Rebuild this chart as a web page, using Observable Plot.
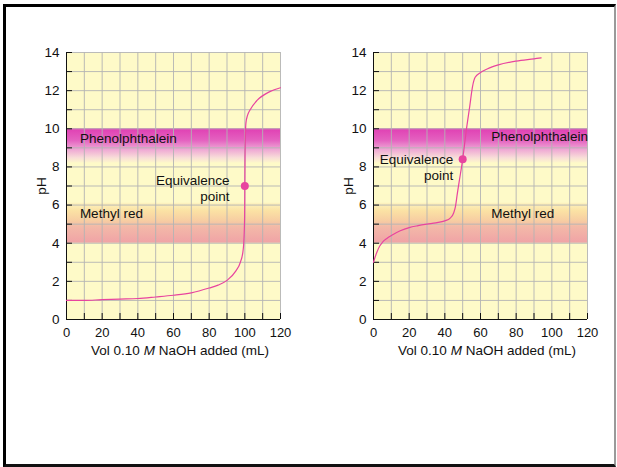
<!DOCTYPE html>
<html><head><meta charset="utf-8">
<script src="https://cdn.jsdelivr.net/npm/d3@7"></script>
<script src="https://cdn.jsdelivr.net/npm/@observablehq/plot@0.6"></script>
<style>
html,body{margin:0;padding:0;background:#fff;}
#frame{position:absolute;left:3px;top:4px;width:608px;height:457px;border-left:3px solid #000;border-top:3px solid #000;border-right:2px solid #9a9a9a;border-bottom:3px solid #111;}
.panel{position:absolute;}
.xlabel{position:absolute;font-family:"Liberation Sans",Arial,sans-serif;font-size:13.5px;line-height:16px;color:#111;white-space:nowrap;transform:translateX(-50%);}
</style></head>
<body>
<div id="frame"></div>
<div id="p1" class="panel" style="left:20px;top:40px"></div>
<div id="p2" class="panel" style="left:325px;top:40px"></div>
<div class="xlabel" style="left:180px;top:343px">Vol 0.10 <i>M</i> NaOH added (mL)</div>
<div class="xlabel" style="left:487px;top:343px">Vol 0.10 <i>M</i> NaOH added (mL)</div>
<script>
// ---- data ----
const xTickLabels = [0, 20, 40, 60, 80, 100, 120];
const xMinorTicks = [0, 10, 20, 30, 40, 50, 60, 70, 80, 90, 100, 110, 120];
const yTickLabels = [0, 2, 4, 6, 8, 10, 12, 14];
const yMinorTicks = [0, 1, 2, 3, 4, 5, 6, 7, 8, 9, 10, 11, 12, 13, 14];

// strong acid titration (left)
const volStrong = [0, 10, 20, 30, 40, 50, 60, 70, 80, 85, 90, 95, 97.5, 99, 99.6, 99.9, 100, 100.1, 100.3, 100.6, 101.5, 103, 107, 114, 120];
const pHStrong  = [1.0, 1.0, 1.04, 1.07, 1.1, 1.18, 1.27, 1.4, 1.65, 1.8, 2.05, 2.55, 3.0, 3.6, 4.4, 5.5, 7.0, 8.5, 9.6, 10.3, 10.7, 11.0, 11.5, 11.95, 12.15];
// weak acid titration (right)
const volWeak = [0, 1, 2, 3.5, 5, 7.5, 10, 15, 20, 25, 30, 35, 40, 43, 45, 46, 47, 48, 50, 52, 54, 55.5, 57, 60, 64, 70, 80, 90, 94];
const pHWeak  = [3.0, 3.3, 3.55, 3.85, 4.05, 4.25, 4.4, 4.65, 4.82, 4.92, 5.0, 5.07, 5.17, 5.32, 5.6, 5.95, 6.6, 7.2, 8.4, 9.9, 11.2, 12.2, 12.7, 12.95, 13.15, 13.35, 13.55, 13.67, 13.72];

const equivStrong = {vol: 100, pH: 7.0};
const equivWeak = {vol: 50, pH: 8.4};

// indicator ranges
const phenolRange = {lo: 8.2, hi: 10};
const methylRange = {lo: 4, hi: 6.1};

// labels
const labelsStrong = [
  {vol: 7.5, pH: 9.5, text: "Phenolphthalein"},
  {vol: 7.5, pH: 5.55, text: "Methyl red"}
];
const eqLabelsStrong = [
  {vol: 91.4, pH: 7.26, text: "Equivalence"},
  {vol: 91.4, pH: 6.42, text: "point"}
];
const labelsWeak = [
  {vol: 66, pH: 9.57, text: "Phenolphthalein"},
  {vol: 66, pH: 5.55, text: "Methyl red"}
];
const eqLabelsWeak = [
  {vol: 44.7, pH: 8.4, text: "Equivalence"},
  {vol: 44.7, pH: 7.56, text: "point"}
];

const toRows = (xs, ys) => xs.map((v, i) => ({vol: v, pH: ys[i]}));

const BG = "#fefac8";
const CURVE = "#e8449f";
const FONT = "'Liberation Sans', Arial, Helvetica, sans-serif";

function gradientDefs(id) {
  return () => {
    const defs = d3.create("svg:defs");
    const g1 = defs.append("linearGradient").attr("id", id + "-ph").attr("x1", 0).attr("y1", 0).attr("x2", 0).attr("y2", 1);
    [[0, "#e03fb3"], [0.35, "#e462c0"], [0.6, "#eea4d4"], [0.85, "#f8dcd8"], [1, "#fdf6cb"]]
      .forEach(([o, c]) => g1.append("stop").attr("offset", o).attr("stop-color", c));
    const g2 = defs.append("linearGradient").attr("id", id + "-mr").attr("x1", 0).attr("y1", 0).attr("x2", 0).attr("y2", 1);
    [[0, "#fdf3c0"], [0.2, "#fbe2a4"], [0.45, "#f7cda2"], [0.6, "#f3b9a8"], [1, "#f0a3a6"]]
      .forEach(([o, c]) => g2.append("stop").attr("offset", o).attr("stop-color", c));
    return defs.node();
  };
}

function makePanel({id, rows, equiv, labels, eqLabels, marginLeft, marginRight}) {
  const width = 290, height = 330, marginTop = 12, marginBottom = 51;
  const plotW = width - marginLeft - marginRight;
  const plotH = height - marginTop - marginBottom;
  return Plot.plot({
    width, height, marginLeft, marginRight, marginTop, marginBottom,
    x: {domain: [0, 120]},
    y: {domain: [0, 14]},
    style: {fontFamily: FONT, fontSize: "13px", color: "#111", background: "transparent", overflow: "visible"},
    marks: [
      gradientDefs(id),
      Plot.frame({fill: BG, stroke: null}),
      Plot.rect([phenolRange], {x1: 0, x2: 120, y1: "lo", y2: "hi", fill: `url(#${id}-ph)`}),
      Plot.rect([methylRange], {x1: 0, x2: 120, y1: "lo", y2: "hi", fill: `url(#${id}-mr)`}),
      Plot.gridX(xMinorTicks, {stroke: "#b4b4b4", strokeOpacity: 0.9}),
      Plot.gridY(yMinorTicks, {stroke: "#b4b4b4", strokeOpacity: 0.9}),
      Plot.tickX(xMinorTicks, {x: d => d, stroke: "#111", insetTop: plotH - 6}),
      Plot.tickY(yMinorTicks, {y: d => d, stroke: "#111", insetRight: plotW - 6}),
      Plot.ruleX([0], {stroke: "#111"}),
      Plot.ruleY([0], {stroke: "#111"}),
      Plot.axisX(xTickLabels, {tickSize: 0, tickPadding: 8, label: null, fontSize: 13}),
      Plot.axisY(yTickLabels, {tickSize: 0, tickPadding: 7, label: "pH", labelAnchor: "center", labelArrow: "none", labelOffset: 30, fontSize: 13.5}),
      Plot.text(labels, {x: "vol", y: "pH", text: "text", textAnchor: "start", fontSize: 13.5, fill: "#111"}),
      Plot.text(eqLabels, {x: "vol", y: "pH", text: "text", textAnchor: "end", fontSize: 13.5, fill: "#111", ariaLabel: "eqlabel"}),
      Plot.line(rows, {x: "vol", y: "pH", stroke: CURVE, strokeWidth: 1.2, curve: "monotone-x"}),
      Plot.dot([equiv], {x: "vol", y: "pH", r: 4, fill: CURVE, stroke: null})
    ]
  });
}

function addBoxes(svg, fill) {
  svg.querySelectorAll('g[aria-label="eqlabel"] text').forEach(t => {
    const b = t.getBBox();
    const r = document.createElementNS("http://www.w3.org/2000/svg", "rect");
    r.setAttribute("x", b.x - 1.5);
    r.setAttribute("y", b.y + 1.5);
    r.setAttribute("width", b.width + 3);
    r.setAttribute("height", Math.max(0, b.height - 3));
    r.setAttribute("fill", fill);
    r.setAttribute("stroke", "none");
    if (t.getAttribute("transform")) r.setAttribute("transform", t.getAttribute("transform"));
    t.parentNode.insertBefore(r, t);
  });
}

const svg1 = makePanel({id: "pa", rows: toRows(volStrong, pHStrong), equiv: equivStrong, labels: labelsStrong, eqLabels: eqLabelsStrong, marginLeft: 46, marginRight: 30});
const svg2 = makePanel({id: "pb", rows: toRows(volWeak, pHWeak), equiv: equivWeak, labels: labelsWeak, eqLabels: eqLabelsWeak, marginLeft: 48, marginRight: 28});
document.getElementById("p1").appendChild(svg1);
document.getElementById("p2").appendChild(svg2);
addBoxes(svg1, BG);
addBoxes(svg2, "#fffcf2");
</script>
</body></html>
